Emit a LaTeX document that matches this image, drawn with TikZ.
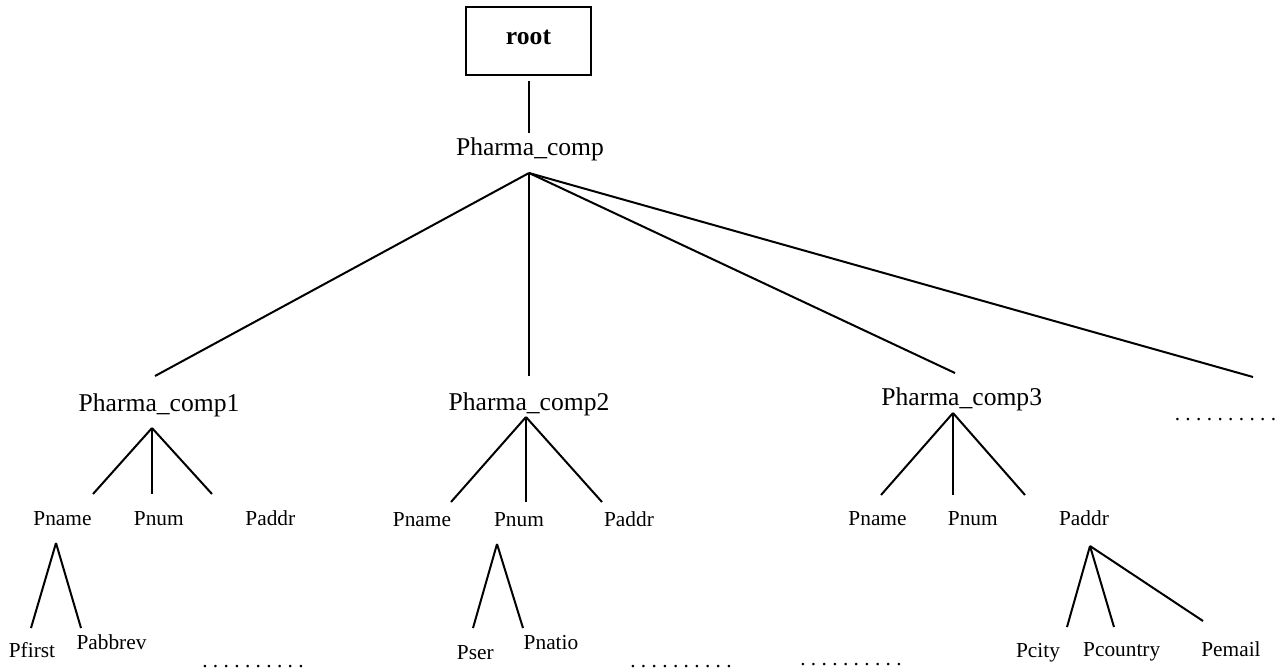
\documentclass[tikz,border=0pt]{standalone}
\usepackage{fontspec}
\setmainfont{Liberation Serif}
\usepackage{tikz}

\tikzset{
    big/.style={font=\fontsize{12.8}{15}\selectfont, inner sep=0pt, anchor=base},
    small/.style={font=\fontsize{10.67}{13}\selectfont, inner sep=0pt, anchor=base},
    rootbox/.style={draw, font=\fontsize{12.8}{15}\selectfont\bfseries, minimum width=62.5pt,
        minimum height=34pt, text height=3pt, text depth=0pt, inner sep=0pt}
}
\newcommand{\dotrow}{{\frenchspacing . . . . . . . . . .}}

\begin{document}
\begin{tikzpicture}[x=0.5pt, y=-0.5pt, line width=1pt]
    \useasboundingbox (0,0) rectangle (1279,670);

    % Root and top level
    \node[rootbox] (root) at (528.5,41) {root};
    \node[big] (pc) at (530,155) {Pharma\_comp};

    % Level 1
    \node[big] (pc1) at (159,411.5) {Pharma\_comp1};
    \node[big] (pc2) at (529,410) {Pharma\_comp2};
    \node[big] (pc3) at (961.7,405) {Pharma\_comp3};
    \node[small] (more0) at (1225.5,420) {\dotrow};

    % Level 2
    \node[small] (name1) at (62.5,525) {Pname};
    \node[small] (num1) at (158.8,525) {Pnum};
    \node[small] (addr1) at (270.3,525) {Paddr};
    \node[small] (name2) at (422,526.5) {Pname};
    \node[small] (num2) at (519,526.5) {Pnum};
    \node[small] (addr2) at (629,526.5) {Paddr};
    \node[small] (name3) at (877.5,525) {Pname};
    \node[small] (num3) at (972.8,525) {Pnum};
    \node[small] (addr3) at (1084,525) {Paddr};

    % Level 3
    \node[small] (first) at (32,657) {Pfirst};
    \node[small] (abbrev) at (111.5,649) {Pabbrev};
    \node[small] (more1) at (253,667) {\dotrow};
    \node[small] (ser) at (475.3,659) {Pser};
    \node[small] (natio) at (551,649) {Pnatio};
    \node[small] (more2) at (681,667) {\dotrow};
    \node[small] (more3) at (851,665.5) {\dotrow};
    \node[small] (city) at (1038,657.5) {Pcity};
    \node[small] (country) at (1121.7,656.5) {Pcountry};
    \node[small] (email) at (1231,656.5) {Pemail};

    % Line ends
    \coordinate (rootL) at (529,81);
    \coordinate (pcT) at (529,133);
    \coordinate (pcA) at (529,173);
    \coordinate (pc1T) at (155,376);
    \coordinate (pc2T) at (529,376);
    \coordinate (pc3T) at (955,373);
    \coordinate (pc4T) at (1253,377);
    \coordinate (pc1A) at (152,428);
    \coordinate (name1T) at (93,494);
    \coordinate (num1T) at (152,494);
    \coordinate (addr1T) at (212,494);
    \coordinate (pc2A) at (526,417);
    \coordinate (name2T) at (451,502);
    \coordinate (num2T) at (526,502);
    \coordinate (addr2T) at (602,502);
    \coordinate (pc3A) at (953,413);
    \coordinate (name3T) at (881,495);
    \coordinate (num3T) at (953,495);
    \coordinate (addr3T) at (1025,495);
    \coordinate (name1A) at (56,543);
    \coordinate (firstT) at (31,628);
    \coordinate (abbrevT) at (81,628);
    \coordinate (num2A) at (497,544);
    \coordinate (serT) at (473,628);
    \coordinate (natioT) at (523,628);
    \coordinate (addr3A) at (1090,546);
    \coordinate (cityT) at (1067,627);
    \coordinate (countryT) at (1114,627);
    \coordinate (emailT) at (1203,621);

    % Connectors
    \draw (rootL) -- (pcT);
    \foreach \c in {pc1T, pc2T, pc3T, pc4T} {
        \draw (pcA) -- (\c);
    }
    \foreach \c in {name1T, num1T, addr1T} {
        \draw (pc1A) -- (\c);
    }
    \foreach \c in {name2T, num2T, addr2T} {
        \draw (pc2A) -- (\c);
    }
    \foreach \c in {name3T, num3T, addr3T} {
        \draw (pc3A) -- (\c);
    }
    \foreach \c in {firstT, abbrevT} {
        \draw (name1A) -- (\c);
    }
    \foreach \c in {serT, natioT} {
        \draw (num2A) -- (\c);
    }
    \foreach \c in {cityT, countryT, emailT} {
        \draw (addr3A) -- (\c);
    }
\end{tikzpicture}
\end{document}
